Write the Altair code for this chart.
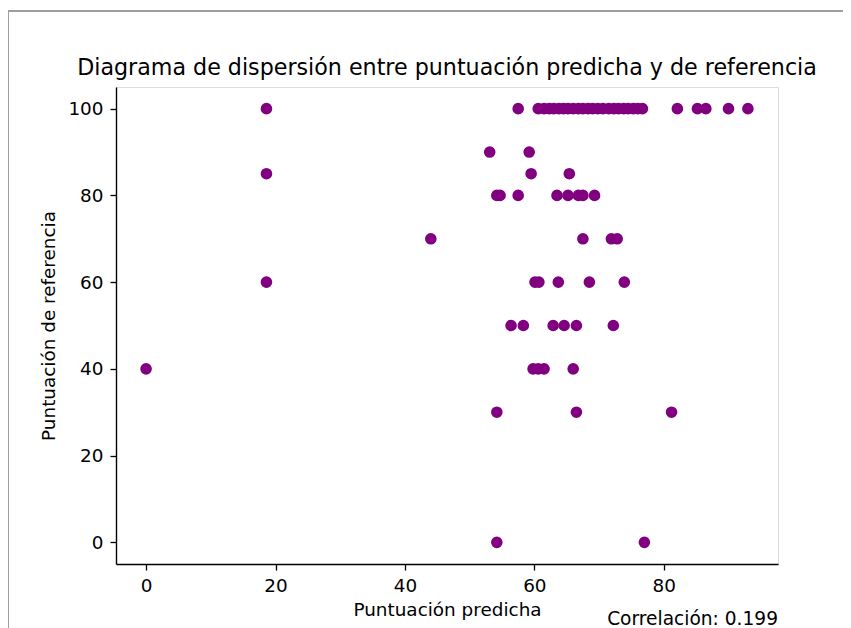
import altair as alt
import pandas as pd

# Predicted score (x) and reference score (y)
predicha = [
    # reference = 100
    18.6, 57.5, 60.6, 61.5, 62.3, 63.0, 63.8, 64.5, 65.2, 66.0, 66.8, 67.5,
    68.3, 69.0, 69.8, 70.6, 71.5, 72.3, 73.0, 73.8, 74.5, 75.3, 76.0, 76.7,
    82.1, 85.2, 86.5, 90.0, 93.0,
    # reference = 90
    53.1, 59.2,
    # reference = 85
    18.6, 59.5, 65.4,
    # reference = 80
    54.2, 54.7, 57.5, 63.5, 65.2, 66.8, 67.5, 69.3,
    # reference = 70
    44.0, 67.5, 71.9, 72.8,
    # reference = 60
    18.6, 60.1, 60.7, 63.7, 68.5, 73.9,
    # reference = 50
    56.4, 58.3, 62.9, 64.6, 66.5, 72.2,
    # reference = 40
    0.0, 59.8, 60.6, 61.5, 66.0,
    # reference = 30
    54.2, 66.5, 81.2,
    # reference = 0
    54.2, 77.0,
]
referencia = (
    [100] * 29 + [90] * 2 + [85] * 3 + [80] * 8 + [70] * 4 + [60] * 6
    + [50] * 6 + [40] * 5 + [30] * 3 + [0] * 2
)
x_ticks = [0, 20, 40, 60, 80]
y_ticks = [0, 20, 40, 60, 80, 100]
titulo = ["Diagrama de dispersión entre puntuación predicha y de referencia"]
correlacion_txt = ["Correlación: 0.199"]

df = pd.DataFrame({"predicha": predicha, "referencia": referencia})

W, H = 662, 477
FONT = "DejaVu Sans"
LBL = 18.4

xmin, xmax = min(predicha), max(predicha)
xpad = (xmax - xmin) * 0.05
ymin, ymax = min(referencia), max(referencia)
ypad = (ymax - ymin) * 0.05

points = alt.Chart(df).mark_circle(size=135, color="#800080", opacity=1).encode(
    x=alt.X(
        "predicha:Q",
        scale=alt.Scale(domain=[xmin - xpad, xmax + xpad], nice=False, zero=False),
        axis=alt.Axis(
            title="Puntuación predicha",
            values=x_ticks,
            grid=False,
            tickSize=6,
            tickWidth=1.3,
            tickColor="black",
            domainColor="black",
            domainWidth=1.4,
            labelFontSize=LBL,
            labelFont=FONT,
            labelColor="black",
            labelPadding=6,
            titleFontSize=LBL,
            titleFont=FONT,
            titleFontWeight="normal",
            titleColor="black",
            titleX=W / 2,
            titleY=51,
            titleBaseline="alphabetic",
            titleAlign="center",
        ),
    ),
    y=alt.Y(
        "referencia:Q",
        scale=alt.Scale(domain=[ymin - ypad, ymax + ypad], nice=False, zero=False),
        axis=alt.Axis(
            title="Puntuación de referencia",
            values=y_ticks,
            grid=False,
            tickSize=6,
            tickWidth=1.3,
            tickColor="black",
            domainColor="black",
            domainWidth=1.4,
            labelFontSize=LBL,
            labelFont=FONT,
            labelColor="black",
            labelPadding=7,
            titleFontSize=LBL,
            titleFont=FONT,
            titleFontWeight="normal",
            titleColor="black",
            titleX=-62,
            titleY=H / 2,
            titleAngle=270,
            titleBaseline="alphabetic",
            titleAlign="center",
        ),
    ),
)

title_mark = alt.Chart(pd.DataFrame({"t": titulo})).mark_text(
    align="center", baseline="alphabetic", fontSize=22.2, font=FONT, color="black"
).encode(text="t:N", x=alt.value(W / 2), y=alt.value(-12))

corr = alt.Chart(pd.DataFrame({"t": correlacion_txt})).mark_text(
    align="right", baseline="alphabetic", fontSize=18.6, font=FONT, color="black"
).encode(text="t:N", x=alt.value(W), y=alt.value(538))

# figure border (top and left edges of the figure frame)
border_top = alt.Chart(pd.DataFrame({"a": [0]})).mark_rule(
    color="#9e9e9e", strokeWidth=2
).encode(x=alt.value(-108), x2=alt.value(W + 70), y=alt.value(-76))
border_left = alt.Chart(pd.DataFrame({"a": [0]})).mark_rule(
    color="#9e9e9e", strokeWidth=2
).encode(x=alt.value(-108), y=alt.value(-76), y2=alt.value(H + 80))

chart = (
    alt.layer(points, title_mark, corr, border_top, border_left)
    .properties(
        width=W,
        height=H,
        autosize=alt.AutoSizeParams(type="none"),
        padding={"left": 108, "top": 79, "right": 65, "bottom": 64},
    )
    .configure_view(stroke="black", strokeWidth=1.4)
    .configure(background="white")
)

chart.save("out.html", embed_options={"renderer": "svg", "actions": False})
